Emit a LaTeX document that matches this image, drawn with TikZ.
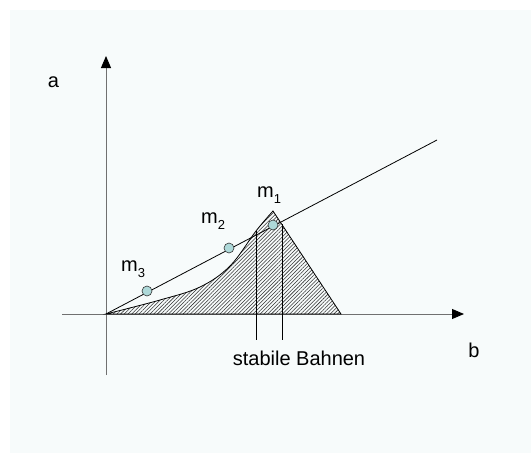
\documentclass[tikz,border=0pt]{standalone}
\usepackage{fontspec}
\setmainfont{Liberation Sans}
\usetikzlibrary{arrows.meta,patterns.meta}
\definecolor{plotPaper}{HTML}{F7FBFB}
\definecolor{plotDot}{HTML}{AED9D9}
\definecolor{plotAxis}{HTML}{707070}
\newcommand{\msub}[1]{\raisebox{-6.5pt}{\fontsize{13}{13}\selectfont #1}}
\tikzset{
    axis/.style={-{Triangle[length=12pt,width=10pt,color=black]}, line width=0.9pt, draw=plotAxis},
    thin line/.style={line width=0.8pt, draw=black},
    region/.style={line width=0.8pt, draw=black, pattern={Lines[angle=45,distance=2.6pt,line width=0.55pt]}, pattern color=black!80},
    orbit/.style={circle, draw=black!80, line width=0.6pt, fill=plotDot, inner sep=0pt, minimum size=10pt},
    lbl/.style={font=\fontsize{20}{22}\selectfont, inner sep=0pt}
}

\begin{document}
\begin{tikzpicture}[x=1pt,y=-1pt]
\useasboundingbox (0,0) rectangle (531,453);
\fill[plotPaper] (10,10) rectangle (531,453);
% axes
\coordinate (O) at (106,314);
\coordinate (aBot) at (106,375);
\coordinate (aTip) at (106,56);
\coordinate (bLeft) at (62,314);
\coordinate (bTip) at (464,314);
\draw[axis] (aBot) -- (aTip);
\draw[axis] (bLeft) -- (bTip);
\node[lbl, anchor=base] (aLbl) at (53.5,87) {a};
\node[lbl, anchor=base] (bLbl) at (474,357) {b};
% hatched region
\coordinate (peak) at (273,211);
\coordinate (foot) at (341,314);
\draw[region] (O) plot[smooth, tension=0.6] coordinates {(106,314) (160,300) (200,287) (230,266) (256,231) (273,211)} -- (foot) -- cycle;
% straight line
\coordinate (lineEnd) at (437,140);
\draw[thin line] (O) -- (lineEnd);
% stable orbits
\coordinate (s1Top) at (256,231);
\coordinate (s1Bot) at (256,340);
\coordinate (s2Top) at (282,224);
\coordinate (s2Bot) at (282,340);
\draw[thin line] (s1Top) -- (s1Bot);
\draw[thin line] (s2Top) -- (s2Bot);
\node[lbl, anchor=base] (stab) at (299,365) {stabile Bahnen};
% masses
\node[orbit] (m3) at (147,291) {};
\node[orbit] (m2) at (229,248) {};
\node[orbit] (m1) at (273,225) {};
\node[lbl, anchor=base west] (m3Lbl) at (121,271) {m\msub{3}};
\node[lbl, anchor=base west] (m2Lbl) at (201,223) {m\msub{2}};
\node[lbl, anchor=base west] (m1Lbl) at (257,197) {m\msub{1}};
\end{tikzpicture}
\end{document}
